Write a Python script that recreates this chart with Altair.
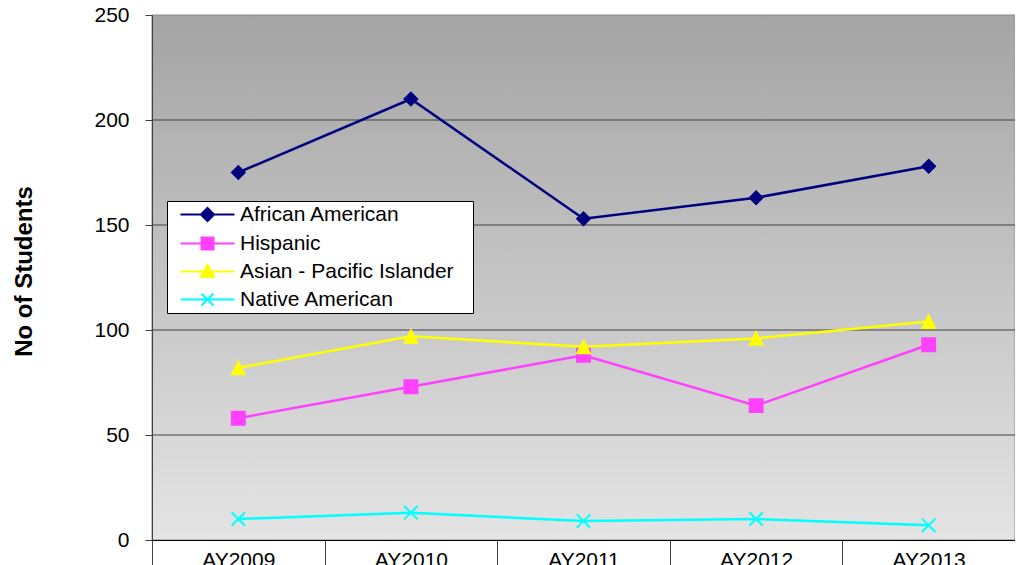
import altair as alt
import pandas as pd

# ---- data ----
years = ["AY2009", "AY2010", "AY2011", "AY2012", "AY2013"]
series_names = ["African American", "Hispanic", "Asian - Pacific Islander", "Native American"]
african_american = [175, 210, 153, 163, 178]
hispanic = [58, 73, 88, 64, 93]
asian_pacific = [82, 97, 92, 96, 104]
native_american = [10, 13, 9, 10, 7]
y_ticks = [0, 50, 100, 150, 200, 250]
grid_values = [50, 100, 150, 200]
chart_title = "Academic Years 2009-2013"
y_title = "No of Students"

# ---- styles ----
colors = ["#000080", "#FF40FF", "#FFFF00", "#00FFFF"]
point_shapes = [
    "diamond",
    "square",
    "M0,-1L1,1L-1,1Z",
    "M-1,-1L1,1M-1,1L1,-1",
]
point_filled = [True, True, True, False]
legend_paths = [
    "M-4.5,0H4.5M0,-1.1L1.1,0L0,1.1L-1.1,0Z",
    "M-4.5,0H4.5M-1,-1H1V1H-1Z",
    "M-4.5,0H4.5M0,-1.1L1.1,0.9L-1.1,0.9Z",
    "M-4.5,0H4.5M-1,-1L1,1M-1,1L1,-1",
]
FONT = "Liberation Sans"

values = [african_american, hispanic, asian_pacific, native_american]
rows = []
for name, vals in zip(series_names, values):
    for yr, v in zip(years, vals):
        rows.append({"year": yr, "series": name, "value": v})
df = pd.DataFrame(rows)

x_enc = alt.X(
    "year:N",
    sort=years,
    scale=alt.Scale(type="band", paddingInner=0, paddingOuter=0),
    axis=alt.Axis(
        title=None,
        labelAngle=0,
        labelFont=FONT,
        labelFontSize=21,
        labelColor="black",
        labelPadding=-21,
        tickBand="extent",
        tickSize=30,
        tickColor="#404040",
        domainColor="black",
        domainWidth=1,
        zindex=1,
    ),
)
y_enc = alt.Y(
    "value:Q",
    scale=alt.Scale(domain=[0, 250], nice=False),
    axis=alt.Axis(
        values=y_ticks,
        grid=False,
        labelFont=FONT,
        labelFontSize=21,
        labelColor="black",
        labelPadding=16,
        tickSize=7,
        tickColor="#404040",
        domainColor="#404040",
        title=y_title,
        titleFont=FONT,
        titleFontSize=24,
        titleFontWeight="bold",
        titleColor="black",
        titleAngle=-90,
        titleX=-121,
        titleY=256,
        titleBaseline="alphabetic",
        zindex=1,
    ),
)
color_scale = alt.Scale(domain=series_names, range=colors)
legend = alt.Legend(
    orient="none",
    legendX=15,
    legendY=186,
    title="\u00a0",
    titleOrient="right",
    titlePadding=16,
    titleFontSize=12,
    fillColor="white",
    strokeColor="black",
    padding=3,
    symbolOffset=27,
    labelOffset=22,
    labelFont=FONT,
    labelFontSize=21,
    labelColor="black",
    labelLimit=500,
    rowPadding=6,
    symbolSize=144,
    symbolStrokeWidth=2,
    symbolOpacity=1,
)
color_enc = alt.Color("series:N", scale=color_scale, legend=legend, sort=series_names)
stroke_enc = alt.Stroke("series:N", scale=color_scale, legend=legend, sort=series_names)

bg = alt.Chart(pd.DataFrame({"k": [0]})).mark_rect(
    color=alt.LinearGradient(
        gradient="linear",
        stops=[alt.GradientStop(color="#a4a4a4", offset=0), alt.GradientStop(color="#e4e4e4", offset=1)],
        x1=0, x2=0, y1=0, y2=1,
    ),
    stroke="#8c8c8c",
    strokeWidth=1,
).encode(x=alt.value(0), x2=alt.value("width"), y=alt.value(0), y2=alt.value("height"))

grid = alt.Chart(pd.DataFrame({"value": grid_values})).mark_rule(color="#404040", strokeWidth=1).encode(y=y_enc)

lines = alt.Chart(df).mark_line(strokeWidth=2.5).encode(x=x_enc, y=y_enc, color=color_enc)

# legend carrier: tiny marks hidden under the real markers, providing the legend symbols
legend_layer = alt.Chart(df).mark_point(filled=True, size=1, strokeWidth=0.2).encode(
    x=x_enc, y=y_enc,
    color=color_enc,
    stroke=stroke_enc,
    shape=alt.Shape("series:N", scale=alt.Scale(domain=series_names, range=legend_paths), legend=legend, sort=series_names),
)

point_layers = []
for name, shp, fld in zip(series_names, point_shapes, point_filled):
    enc = dict(x=x_enc, y=y_enc, color=color_enc)
    if fld:
        enc["stroke"] = stroke_enc
    point_layers.append(
        alt.Chart(df)
        .transform_filter(alt.datum.series == name)
        .mark_point(shape=shp, filled=fld, opacity=1, size=180, strokeWidth=2 if not fld else 1.5)
        .encode(**enc)
    )

chart = alt.layer(bg, grid, lines, legend_layer, *point_layers).properties(
    width=863,
    height=525,
    title=alt.TitleParams(
        text=chart_title,
        font=FONT,
        fontSize=24,
        fontWeight="bold",
        color="black",
        anchor="middle",
        dx=-113,
        offset=-7,
        baseline="alphabetic",
    ),
    autosize=alt.AutoSizeParams(type="none"),
    padding={"left": 144, "top": 7, "right": 0, "bottom": 25},
).configure_view(stroke=None)

chart.save("out.html", embed_options={"renderer": "svg", "actions": False})
